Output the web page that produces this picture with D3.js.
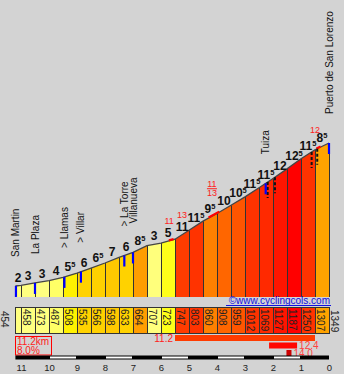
<!DOCTYPE html>
<html lang="en">
<head>
<meta charset="UTF-8">
<title>Puerto de San Lorenzo</title>
<script src="https://d3js.org/d3.v7.min.js"></script>
<style>
  body { margin: 0; background: #d3d3d3; }
  svg { display: block; }
  text { font-family: "Liberation Sans", Arial, sans-serif; }
</style>
</head>
<body>
<script>
// distance to the summit (km) and altitude (m) at each profile point
const kms  = [11.2, 11, 10.5, 10, 9.5, 9, 8.5, 8, 7.5, 7, 6.5, 6, 5.5, 5, 4.5, 4, 3.5, 3, 2.5, 2, 1.5, 1, 0.5, 0];
const alts = [454, 458, 473, 487, 508, 535, 566, 598, 633, 664, 707, 723, 747, 803, 860, 908, 959, 1012, 1069, 1127, 1187, 1250, 1307, 1349];

// villages along the road
const placeNames = ["San Martin", "La Plaza", "> Llamas", "> Villar", "> La Torre", "Villanueva", "Tuiza", "Puerto de San Lorenzo"];
const placeKms   = [11.18, 10.5, 9.45, 8.86, 7.31, 7.0, 2.26, 0];

// tunnels / galleries
const tunnelKms = [2.19, 1.93, 0.62, 0.42];

// steepest 100 m pieces
const steepFrom  = [5.72, 4.30, 0.45];
const steepTo    = [5.55, 3.92, 0.30];
const steepKms   = [5.71, 5.25, 4.18, 0.5];
const steepTexts = ["11", "13", "11/13", "12"];

// steepest stretches (km from, km to, average %)
const bestFrom   = [5.5, 2.14, 1.52];
const bestTo     = [0.5, 1.14, 1.34];
const bestGrades = [11.2, 12.4, 14.0];

const axisTicks = d3.range(0, 12);

const W = 344, H = 374;
const colBottom = 297, boxTop = 307, boxBottom = 333;

const svg = d3.select("body").append("svg")
    .attr("width", W)
    .attr("height", H);

svg.append("rect").attr("width", W).attr("height", H).attr("fill", "#d3d3d3");

const x = d3.scaleLinear().domain([11.2, 0]).range([15.4, 329]);
const y = d3.scaleLinear().domain([454, 1349]).range([286, 143]);
const altAt = d3.scaleLinear().domain(kms).range(alts);

const color = d3.scaleLinear()
    .domain([3, 4.2, 5, 5.5, 6.2, 7, 8.5, 9.6, 10.2, 10.6, 11.4, 12, 12.6, 14])
    .range(["#ffff80", "#ffff66", "#ffff00", "#ffee00", "#ffd200", "#ffc800", "#ffa000",
            "#ff8000", "#ff6600", "#ff5500", "#ff3300", "#ff1500", "#ff0000", "#cc0000"])
    .clamp(true);

const segs = d3.range(alts.length - 1).map(i => {
    const len = kms[i] - kms[i + 1];
    return {
        i: i, k0: kms[i], k1: kms[i + 1], a0: alts[i], a1: alts[i + 1],
        g: (alts[i + 1] - alts[i]) / (len * 10)
    };
});

// coloured columns under the profile
svg.append("g").selectAll("path")
    .data(segs)
    .enter().append("path")
    .attr("d", d => `M${x(d.k0)},${y(d.a0)}L${x(d.k1)},${y(d.a1)}L${x(d.k1)},${colBottom}L${x(d.k0)},${colBottom}Z`)
    .attr("fill", d => color(d.g));

svg.append("g").selectAll("line")
    .data(kms)
    .enter().append("line")
    .attr("x1", d => Math.round(x(d)) + 0.5)
    .attr("x2", d => Math.round(x(d)) + 0.5)
    .attr("y1", (d, i) => y(alts[i]))
    .attr("y2", colBottom)
    .attr("stroke", "#333")
    .attr("stroke-width", 1);

// profile line
const line = d3.line().x(d => x(d[0])).y(d => y(d[1]));
svg.append("path")
    .attr("d", line(kms.map((k, i) => [k, alts[i]])))
    .attr("fill", "none")
    .attr("stroke", "#454545")
    .attr("stroke-width", 1.3);

// steep pieces in red on the profile
svg.append("g").selectAll("line")
    .data(steepFrom)
    .enter().append("line")
    .attr("x1", d => x(d))
    .attr("y1", d => y(altAt(d)) - 0.5)
    .attr("x2", (d, i) => x(steepTo[i]))
    .attr("y2", (d, i) => y(altAt(steepTo[i])) - 0.5)
    .attr("stroke", "#ff0000")
    .attr("stroke-width", 2.2);

// tunnels
svg.append("g").selectAll("line")
    .data(tunnelKms)
    .enter().append("line")
    .attr("x1", d => x(d)).attr("x2", d => x(d))
    .attr("y1", d => y(altAt(d)))
    .attr("y2", d => y(altAt(d)) + 16)
    .attr("stroke", "#111")
    .attr("stroke-width", 2)
    .attr("stroke-dasharray", "3,2");

// village markers
svg.append("g").selectAll("line")
    .data(placeKms)
    .enter().append("line")
    .attr("x1", d => x(d)).attr("x2", d => x(d))
    .attr("y1", d => y(altAt(d)))
    .attr("y2", d => y(altAt(d)) + 11)
    .attr("stroke", "#0000ff")
    .attr("stroke-width", 2.2);

// gradient labels above each segment
const grade = svg.append("g").selectAll("text")
    .data(segs)
    .enter().append("text")
    .attr("x", d => x((d.k0 + d.k1) / 2))
    .attr("y", d => y((d.a0 + d.a1) / 2) - 4)
    .attr("text-anchor", "middle")
    .attr("font-size", 12)
    .attr("font-weight", "bold")
    .attr("fill", "#111");
grade.append("tspan").text(d => Math.floor(Math.round(d.g * 2) / 2));
grade.filter(d => (Math.round(d.g * 2) / 2) % 1 !== 0)
    .append("tspan")
    .attr("font-size", 7.5)
    .attr("dy", -4)
    .text("5");

// red maxima
steepKms.forEach((k, i) => {
    const px = x(k), py = y(altAt(k));
    const parts = steepTexts[i].split("/");
    const g = svg.append("g").attr("fill", "#ff2020").attr("font-size", 9).attr("text-anchor", "middle");
    if (parts.length === 1) {
        g.append("text").attr("x", px).attr("y", py - 16.5).text(parts[0]);
    } else {
        g.append("text").attr("x", px).attr("y", py - 29).text(parts[0]);
        g.append("line").attr("x1", px - 5).attr("x2", px + 5)
            .attr("y1", py - 27.5).attr("y2", py - 27.5)
            .attr("stroke", "#ff2020").attr("stroke-width", 1);
        g.append("text").attr("x", px).attr("y", py - 20.5).text(parts[1]);
    }
});

// village names
svg.append("g").selectAll("text")
    .data(placeKms)
    .enter().append("text")
    .attr("transform", d => `translate(${x(d) + 3.5},${y(altAt(d)) - 29}) rotate(-90)`)
    .attr("font-size", 10)
    .attr("fill", "#111")
    .text((d, i) => placeNames[i]);

// site link
svg.append("text")
    .attr("x", 330).attr("y", 303.5)
    .attr("text-anchor", "end")
    .attr("font-size", 10)
    .attr("fill", "#1010e0")
    .text("\u00a9www.cyclingcols.com");
svg.append("line")
    .attr("x1", 226).attr("x2", 331)
    .attr("y1", 305.5).attr("y2", 305.5)
    .attr("stroke", "#1010e0").attr("stroke-width", 1);

// altitude boxes
const boxes = svg.append("g");
boxes.selectAll("rect")
    .data(segs)
    .enter().append("rect")
    .attr("x", d => Math.round(x(d.k0)) + 0.5)
    .attr("y", boxTop + 0.5)
    .attr("width", d => Math.round(x(d.k1)) - Math.round(x(d.k0)))
    .attr("height", boxBottom - boxTop)
    .attr("fill", d => color(d.g))
    .attr("stroke", "#333");
boxes.selectAll("text")
    .data(segs.filter(d => d.i > 0))
    .enter().append("text")
    .attr("transform", d => `translate(${Math.round(x(d.k0)) + 1.5},${boxTop + 2}) rotate(90)`)
    .attr("font-size", 10)
    .attr("fill", "#222")
    .text(d => d.a0);
boxes.append("text")
    .attr("transform", `translate(0.5,${boxTop + 4}) rotate(90)`)
    .attr("font-size", 10).attr("fill", "#222")
    .text(alts[0]);
boxes.append("text")
    .attr("transform", `translate(330.5,${boxTop + 3}) rotate(90)`)
    .attr("font-size", 10).attr("fill", "#222")
    .text(alts[alts.length - 1]);

// length and average gradient
const total = kms[0] - kms[kms.length - 1];
const avg = (alts[alts.length - 1] - alts[0]) / (total * 10);
svg.append("rect")
    .attr("x", 15.5).attr("y", 336.5).attr("width", 36).attr("height", 18.5)
    .attr("fill", "none").attr("stroke", "#ff0000");
svg.append("text").attr("x", 17).attr("y", 344.5).attr("font-size", 10).attr("fill", "#ff2020")
    .text(total.toFixed(1) + "km");
svg.append("text").attr("x", 17).attr("y", 353.5).attr("font-size", 10).attr("fill", "#ff2020")
    .text(avg.toFixed(1) + "%");

// steepest stretches as bars
bestFrom.forEach((k, i) => {
    const x0 = x(k), x1 = x(bestTo[i]);
    const by = 335 + i * 7.5;
    svg.append("rect")
        .attr("x", x0).attr("y", by)
        .attr("width", x1 - x0).attr("height", 6)
        .attr("fill", color(bestGrades[i]));
    const left = x1 > 300;
    svg.append("text")
        .attr("x", left ? x0 - 2 : x1 + 2)
        .attr("y", by + 6.5)
        .attr("text-anchor", left ? "end" : "start")
        .attr("font-size", 10)
        .attr("fill", i === 0 ? "#ff2020" : "#ff4040")
        .text(bestGrades[i].toFixed(1));
});

// km scale bar
svg.append("rect")
    .attr("x", x(11.2)).attr("y", 355.5)
    .attr("width", x(0) - x(11.2)).attr("height", 4)
    .attr("fill", "#000");
svg.append("g").selectAll("rect")
    .data(axisTicks.filter(k => k % 2 === 1))
    .enter().append("rect")
    .attr("x", d => x(d + 1) + 1)
    .attr("y", 356.5)
    .attr("width", d => x(d) - x(Math.min(d + 1, 11.2)) - 2)
    .attr("height", 2)
    .attr("fill", "#fff");

const axis = d3.axisBottom(x).tickValues(axisTicks).tickSize(0).tickFormat(d3.format("d"));
svg.append("g")
    .attr("transform", "translate(0,359)")
    .call(axis)
    .call(g => g.select(".domain").remove())
    .call(g => g.selectAll("text").attr("font-size", 9.5).attr("fill", "#222").attr("dy", "0.9em"));
</script>
</body>
</html>
